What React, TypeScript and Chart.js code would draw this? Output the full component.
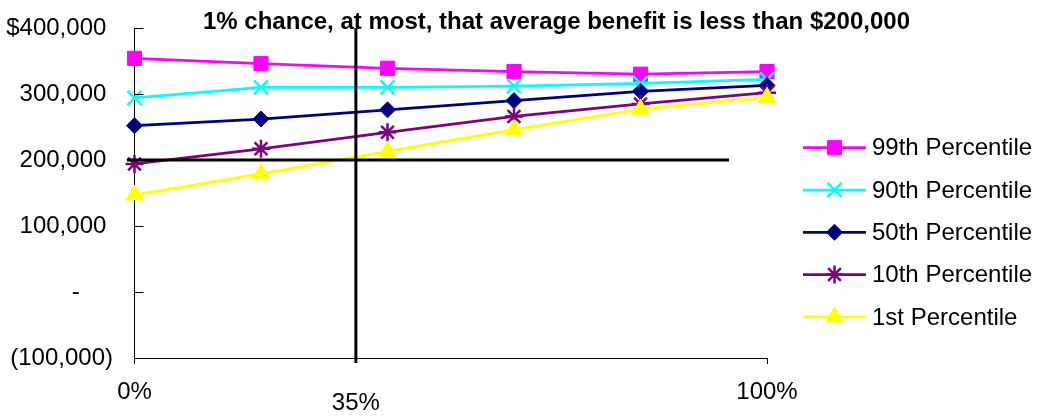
import { useEffect, useRef } from "react";
import { Chart, registerables } from "chart.js";
import { drawPoint } from "chart.js/helpers";

Chart.register(...registerables);

// Share of participants (x, %) and benefit percentiles (y, $)
const shares = [0, 20, 40, 60, 80, 100];
const p99 = [354000, 346000, 339000, 334000, 330000, 334000];
const p90 = [294000, 310000, 310000, 312000, 316000, 322000];
const p50 = [252000, 262000, 276000, 290000, 304000, 313000];
const p10 = [194000, 217000, 242000, 266000, 285000, 302000];
const p1 = [147000, 179000, 213000, 246000, 277000, 295000];

const seriesNames = [
  "99th Percentile",
  "90th Percentile",
  "50th Percentile",
  "10th Percentile",
  "1st Percentile",
];
const seriesColors = ["#FF00FF", "#00FFFF", "#000080", "#800080", "#FFFF00"];
const seriesMarkers = ["rect", "crossRot", "rectRot", "star", "triangle"];

const xTickValues = [0, 100];
const yTickValues = [-100000, 0, 100000, 200000, 300000, 400000];

// Reference lines: $200,000 floor and the 35% cut-off
const floorValue = 200000;
const floorFrom = -1.2;
const floorTo = 94;
const cutoffShare = 35;
const cutoffLabel = "35%";

const titleText = "1% chance, at most, that average benefit is less than $200,000";

const FONT = "'Liberation Sans', Arial, Helvetica, sans-serif";

function formatMoney(v: number): string {
  if (v === 0) return "-     ";
  const s = Math.abs(v).toLocaleString("en-US");
  if (v < 0) return `(${s})`;
  return (v === yTickValues[yTickValues.length - 1] ? "$" : "") + s + " ";
}

const markerRadius: Record<string, number> = {
  rect: 10,
  crossRot: 10,
  rectRot: 8,
  star: 9,
  triangle: 10,
};

const extras = {
  id: "extras",
  afterDatasetsDraw(chart: any) {
    const { ctx, chartArea, scales } = chart;
    const xs = scales.x;
    const ys = scales.y;
    ctx.save();

    // inward y-axis tick marks
    ctx.strokeStyle = "#000";
    ctx.lineWidth = 1;
    yTickValues.forEach((v) => {
      const y = Math.round(ys.getPixelForValue(v)) + 0.5;
      ctx.beginPath();
      ctx.moveTo(chartArea.left, y);
      ctx.lineTo(chartArea.left + 9, y);
      ctx.stroke();
    });

    // $200,000 floor
    ctx.lineWidth = 3;
    ctx.beginPath();
    const fy = ys.getPixelForValue(floorValue);
    ctx.moveTo(xs.getPixelForValue(floorFrom), fy);
    ctx.lineTo(xs.getPixelForValue(floorTo), fy);
    ctx.stroke();

    // 35% cut-off
    const cx = xs.getPixelForValue(cutoffShare);
    ctx.beginPath();
    ctx.moveTo(cx, ys.getPixelForValue(yTickValues[yTickValues.length - 1]));
    ctx.lineTo(cx, chartArea.bottom + 5);
    ctx.stroke();

    ctx.fillStyle = "#000";
    ctx.font = `24px ${FONT}`;
    ctx.textAlign = "center";
    ctx.textBaseline = "middle";
    ctx.fillText(cutoffLabel, cx, chartArea.bottom + 45);

    // title
    ctx.font = `bold 24px ${FONT}`;
    ctx.fillText(titleText, 556.5, 22);

    // legend
    ctx.font = `24px ${FONT}`;
    ctx.textAlign = "left";
    chart.data.datasets.forEach((ds: any, i: number) => {
      const y = 147.7 + i * 42.3;
      ctx.strokeStyle = ds.borderColor;
      ctx.fillStyle = ds.borderColor;
      ctx.lineWidth = ds.borderWidth;
      ctx.beginPath();
      ctx.moveTo(803, y);
      ctx.lineTo(866, y);
      ctx.stroke();
      ctx.lineWidth = ds.pointBorderWidth;
      drawPoint(
        ctx,
        { pointStyle: ds.pointStyle, radius: ds.pointRadius, rotation: 0, borderWidth: ds.pointBorderWidth },
        834.5,
        y
      );
      ctx.fillStyle = "#000";
      ctx.fillText(ds.label, 872, y + 1);
    });

    ctx.restore();
  },
};

export default function App() {
  const canvasRef = useRef<HTMLCanvasElement | null>(null);

  useEffect(() => {
    if (!canvasRef.current) return;
    Chart.defaults.font.family = FONT;
    Chart.defaults.color = "#000";

    const series = [p99, p90, p50, p10, p1];
    const datasets = series.map((vals, i) => {
      const marker = seriesMarkers[i];
      const stroked = marker === "crossRot" || marker === "star";
      return {
        label: seriesNames[i],
        data: shares.map((x, k) => ({ x, y: vals[k] })),
        borderColor: seriesColors[i],
        backgroundColor: seriesColors[i],
        borderWidth: 2.75,
        pointStyle: marker,
        pointRadius: markerRadius[marker],
        pointBorderWidth: stroked ? 2.5 : 1,
        pointBorderColor: seriesColors[i],
        pointBackgroundColor: seriesColors[i],
        tension: 0,
        clip: false as any,
        order: series.length - i,
      };
    });

    const chart = new Chart(canvasRef.current, {
      type: "line",
      data: { datasets },
      options: {
        animation: false,
        responsive: true,
        maintainAspectRatio: false,
        layout: { padding: { left: 0, right: 274, top: 28, bottom: 0 } },
        plugins: {
          legend: { display: false },
          title: { display: false },
          tooltip: { enabled: false },
        },
        scales: {
          x: {
            type: "linear",
            min: 0,
            max: 100,
            afterBuildTicks: (scale: any) => {
              scale.ticks = xTickValues.map((value) => ({ value }));
            },
            afterFit: (scale: any) => {
              scale.height = 60;
            },
            ticks: {
              font: { size: 24 },
              color: "#000",
              padding: 14,
              maxRotation: 0,
              callback: (v: any) => `${v}%`,
            },
            grid: {
              display: true,
              drawOnChartArea: false,
              drawTicks: true,
              tickLength: 6,
              color: "#000",
              lineWidth: 1,
            },
            border: { display: true, color: "#000", width: 1 },
          },
          y: {
            type: "linear",
            min: yTickValues[0],
            max: yTickValues[yTickValues.length - 1],
            afterBuildTicks: (scale: any) => {
              scale.ticks = yTickValues.map((value) => ({ value }));
            },
            afterFit: (scale: any) => {
              scale.width = 134.5;
            },
            ticks: {
              font: { size: 24 },
              color: "#000",
              padding: 13.5,
              callback: (v: any) => formatMoney(Number(v)),
            },
            grid: { display: false, drawTicks: true, tickLength: 8 },
            border: { display: true, color: "#000", width: 1 },
          },
        },
      },
      plugins: [extras],
    });

    return () => chart.destroy();
  }, []);

  return (
    <div style={{ position: "absolute", left: 0, top: 0, width: 1041, height: 418, background: "#fff" }}>
      <canvas ref={canvasRef} />
    </div>
  );
}
